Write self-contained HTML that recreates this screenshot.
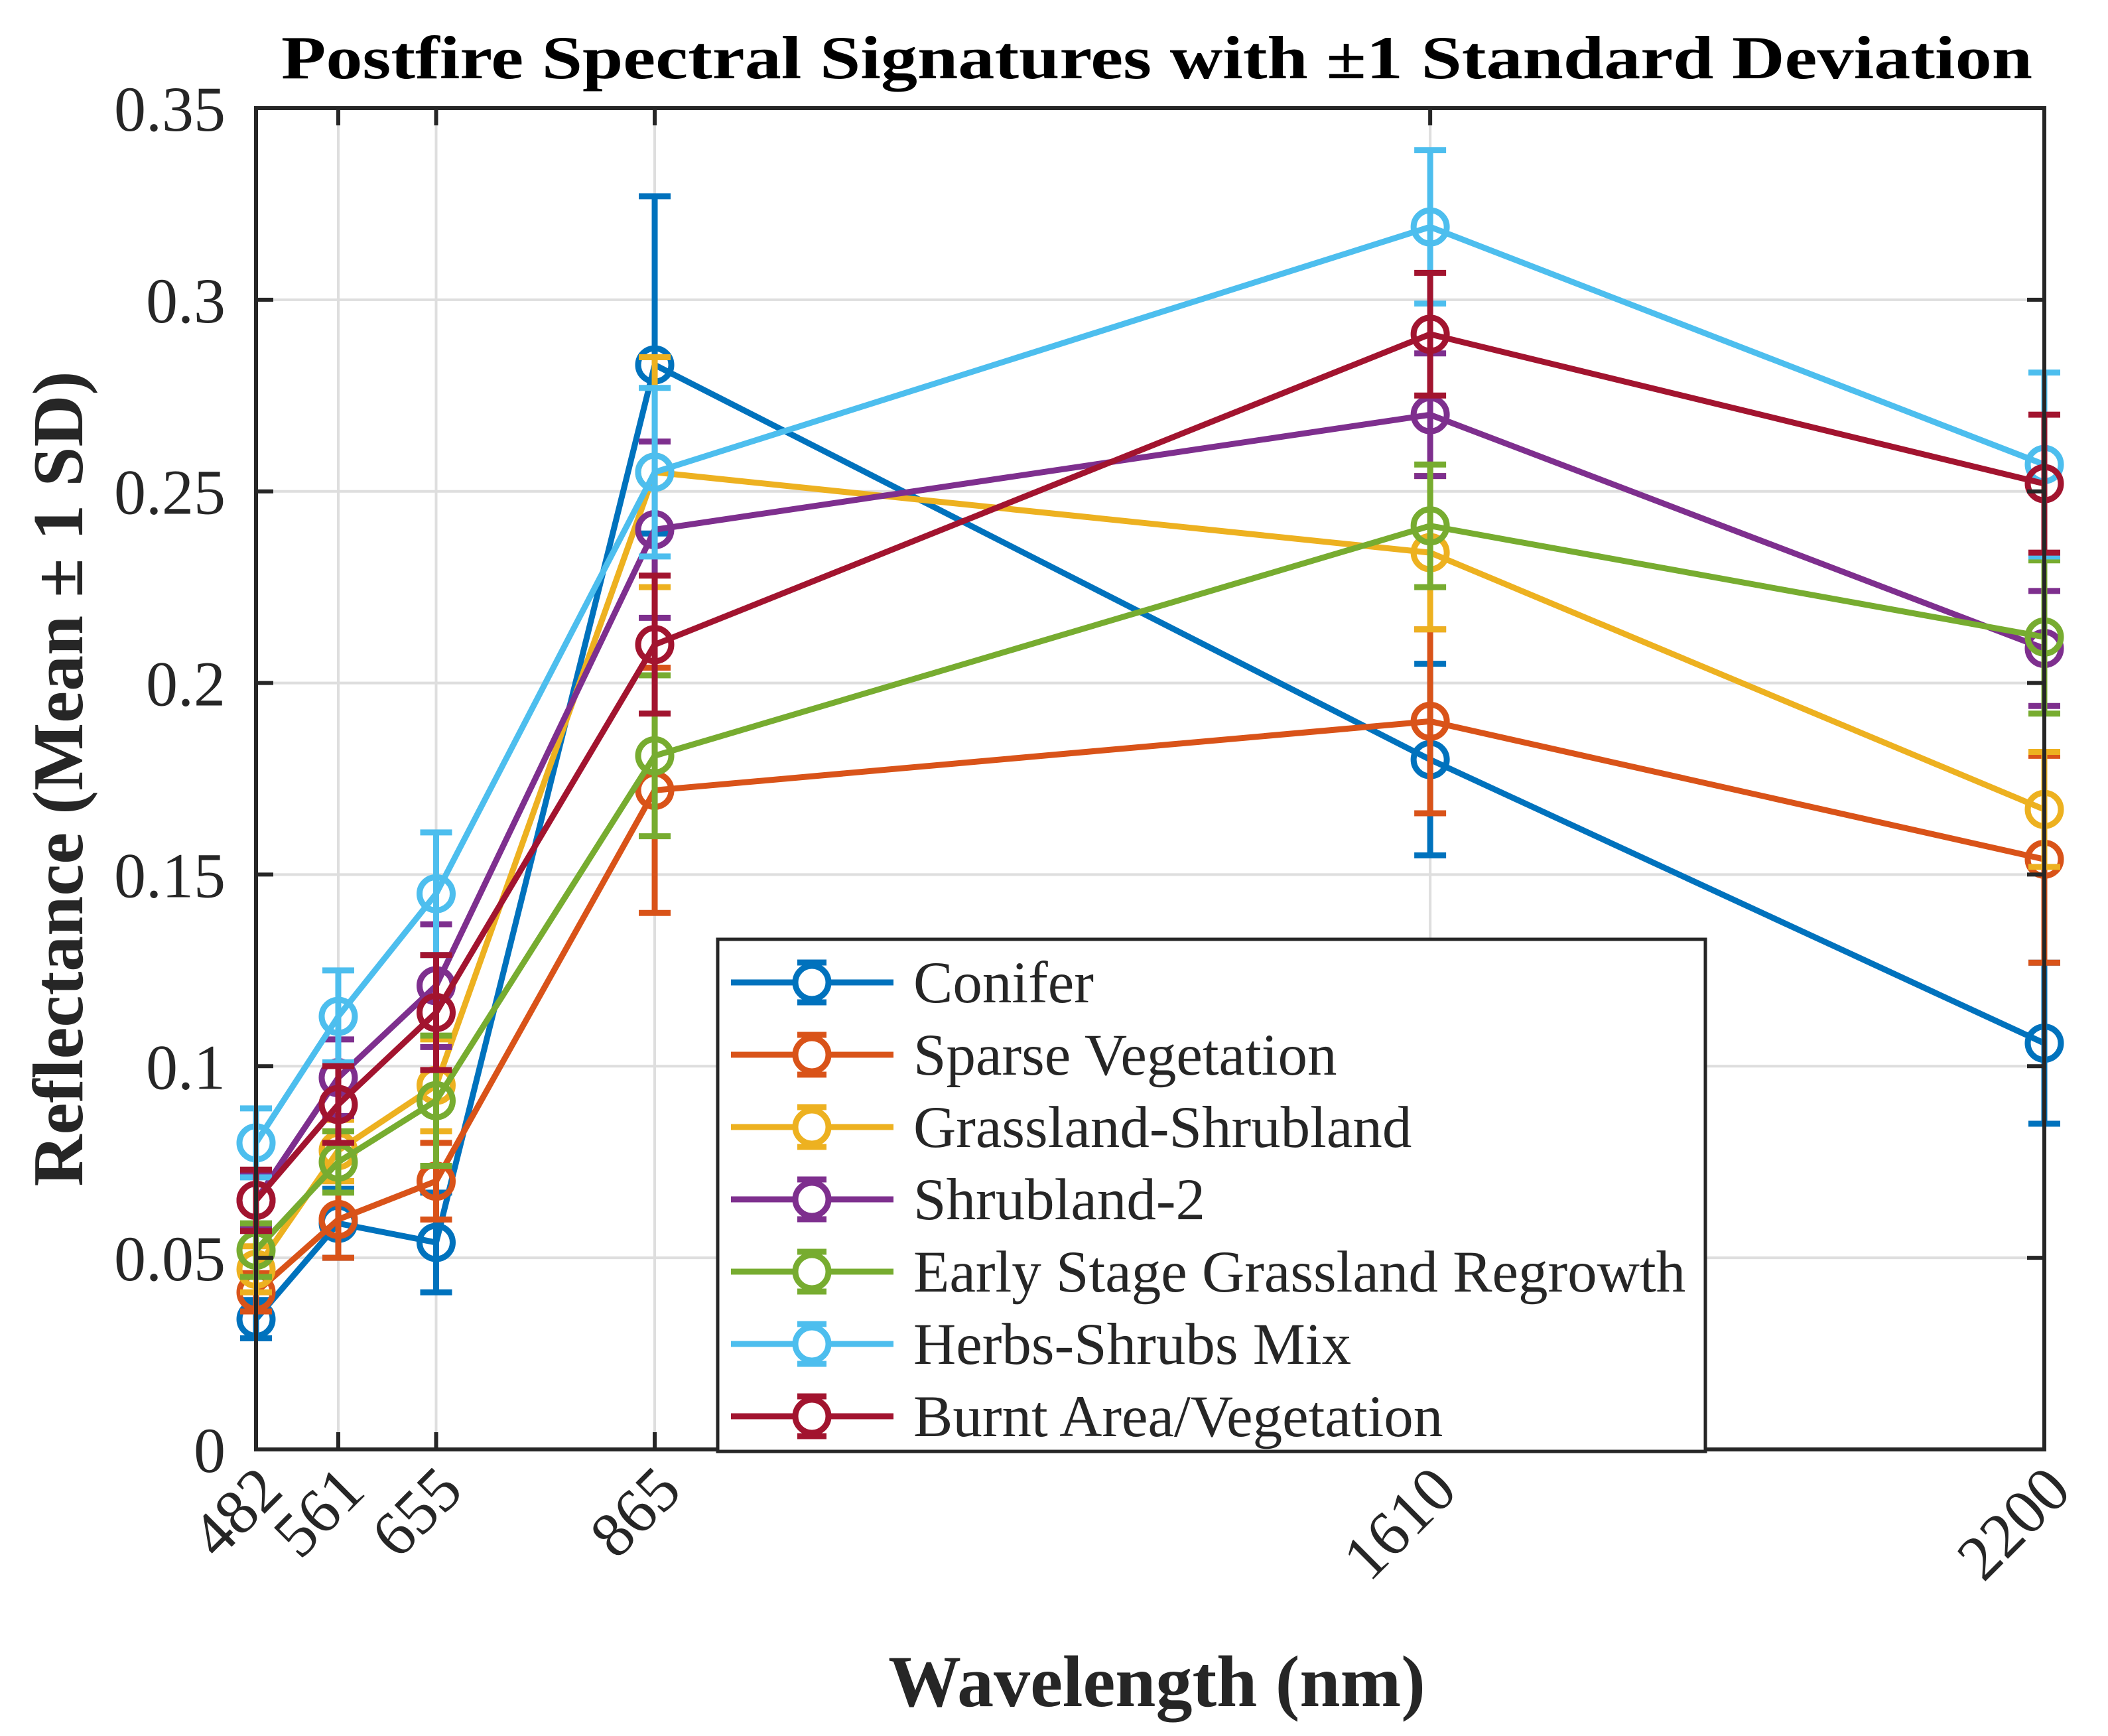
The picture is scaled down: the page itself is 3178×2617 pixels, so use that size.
<!DOCTYPE html>
<html><head><meta charset="utf-8"><style>
html,body{margin:0;padding:0;background:#fff;}
svg{display:block;}
text{font-family:"Liberation Serif",serif;fill:#262626;}
</style></head>
<body>
<svg id="chart" width="3178" height="2617" viewBox="0 0 3178 2617" xmlns="http://www.w3.org/2000/svg">
<rect x="0" y="0" width="3178" height="2617" fill="#fff"/>
<text x="1744" y="118" text-anchor="middle" font-size="92" font-weight="bold" textLength="2640" lengthAdjust="spacingAndGlyphs" style="fill:#000">Postfire Spectral Signatures with ±1 Standard Deviation</text>
<g id="grid"></g>
<g id="series"></g>
<g id="axes"></g>
<g id="legend"></g>
<text x="1744" y="2572" text-anchor="middle" font-size="110" font-weight="bold">Wavelength (nm)</text>
<text transform="translate(124,1174) rotate(-90)" text-anchor="middle" font-size="108" font-weight="bold">Reflectance (Mean ± 1 SD)</text>
</svg>
<script>
const wavelengths = [482, 561, 655, 865, 1610, 2200];
const seriesNames = ["Conifer","Sparse Vegetation","Grassland-Shrubland","Shrubland-2","Early Stage Grassland Regrowth","Herbs-Shrubs Mix","Burnt Area/Vegetation"];
const coniferMean = [0.034, 0.059, 0.054, 0.283, 0.180, 0.106];
const coniferSD   = [0.005, 0.009, 0.013, 0.044, 0.025, 0.021];
const sparseMean  = [0.041, 0.060, 0.070, 0.172, 0.190, 0.154];
const sparseSD    = [0.005, 0.010, 0.010, 0.032, 0.024, 0.027];
const grassMean   = [0.047, 0.078, 0.095, 0.255, 0.234, 0.167];
const grassSD     = [0.006, 0.008, 0.012, 0.030, 0.020, 0.015];
const shrub2Mean  = [0.065, 0.097, 0.121, 0.240, 0.270, 0.209];
const shrub2SD    = [0.007, 0.010, 0.016, 0.023, 0.016, 0.015];
const earlyMean   = [0.052, 0.075, 0.091, 0.181, 0.241, 0.212];
const earlySD     = [0.007, 0.008, 0.017, 0.021, 0.016, 0.020];
const herbsMean   = [0.080, 0.113, 0.145, 0.255, 0.319, 0.257];
const herbsSD     = [0.009, 0.012, 0.016, 0.022, 0.020, 0.024];
const burntMean   = [0.065, 0.090, 0.114, 0.210, 0.291, 0.252];
const burntSD     = [0.008, 0.010, 0.015, 0.018, 0.016, 0.018];
const yTicks = [0, 0.05, 0.1, 0.15, 0.2, 0.25, 0.3, 0.35];
const yTickLabels = ["0","0.05","0.1","0.15","0.2","0.25","0.3","0.35"];
const xTickLabels = ["482","561","655","865","1610","2200"];

const means = [coniferMean, sparseMean, grassMean, shrub2Mean, earlyMean, herbsMean, burntMean];
const sds = [coniferSD, sparseSD, grassSD, shrub2SD, earlySD, herbsSD, burntSD];
const colors = ["#0072BD","#D95319","#EDB120","#7E2F8E","#77AC30","#4DBEEE","#A2142F"];
const L=386, R=3082, T=163, B=2185;
const x = w => L + (w-482)/(2200-482)*(R-L);
const y = v => B - v/0.35*(B-T);
const NS="http://www.w3.org/2000/svg";
function mk(tag, attrs, parent){const e=document.createElementNS(NS,tag);for(const k in attrs)e.setAttribute(k,attrs[k]);parent.appendChild(e);return e;}
const grid=document.getElementById('grid'), axes=document.getElementById('axes'), ser=document.getElementById('series'), leg=document.getElementById('legend');
yTicks.forEach((t,i)=>{
  const g=mk('line',{x1:L,x2:R,y1:y(t),y2:y(t),stroke:'#dedede','stroke-width':4},grid);
  
  
  const tk=mk('line',{x1:L,x2:L+26,y1:y(t),y2:y(t),stroke:'#262626','stroke-width':6},axes);
  
  
  const tk2=mk('line',{x1:R-26,x2:R,y1:y(t),y2:y(t),stroke:'#262626','stroke-width':6},axes);
  
  
  const tx=mk('text',{x:340,y:y(t)+34,'text-anchor':'end','font-size':96},axes);
  tx.textContent=yTickLabels[i];
  
  
});
wavelengths.forEach((w,i)=>{
  const g=mk('line',{x1:x(w),x2:x(w),y1:T,y2:B,stroke:'#dedede','stroke-width':4},grid);
  
  
  const tk=mk('line',{x1:x(w),x2:x(w),y1:B-26,y2:B,stroke:'#262626','stroke-width':6},axes);
  
  
  const tk2=mk('line',{x1:x(w),x2:x(w),y1:T,y2:T+26,stroke:'#262626','stroke-width':6},axes);
  
  
  const tx=mk('text',{transform:`translate(${x(w)+44},${B+66}) rotate(-45)`,'text-anchor':'end','font-size':96},axes);
  tx.textContent=xTickLabels[i];
  
  
});
const box=mk('rect',{x:L,y:T,width:R-L,height:B-T,fill:'none',stroke:'#262626','stroke-width':6},axes);



means.forEach((m,s)=>{
  const g=mk('g',{},ser);
  
  
  const pts=m.map((v,i)=>x(wavelengths[i])+','+y(v)).join(' ');
  const pl=mk('polyline',{points:pts,fill:'none',stroke:colors[s],'stroke-width':9,'stroke-linejoin':'round'},g);
  
  
  m.forEach((v,i)=>{
    const cx=x(wavelengths[i]), sd=sds[s][i];
    const eb=mk('path',{d:`M${cx},${y(v-sd)}V${y(v+sd)}M${cx-24},${y(v-sd)}H${cx+24}M${cx-24},${y(v+sd)}H${cx+24}`,stroke:colors[s],'stroke-width':9,fill:'none'},g);
    
    
    const c=mk('circle',{cx:cx,cy:y(v),r:25,fill:'none',stroke:colors[s],'stroke-width':9},g);
    
    
  });
});

const lb=mk('rect',{x:1082,y:1416,width:1489,height:772,fill:'#fff',stroke:'#262626','stroke-width':5},leg);


seriesNames.forEach((n,s)=>{
  const cy=1481+s*109;
  const g=mk('g',{},leg);
  
  
  mk('line',{x1:1102,x2:1347,y1:cy,y2:cy,stroke:colors[s],'stroke-width':9},g);
  mk('path',{d:`M1224,${cy-30}V${cy+30}M1202,${cy-30}H1246M1202,${cy+30}H1246`,stroke:colors[s],'stroke-width':9,fill:'none'},g);
  mk('circle',{cx:1224,cy:cy,r:25,fill:'#fff',stroke:colors[s],'stroke-width':9},g);
  const t=mk('text',{x:1377,y:cy+30,'font-size':89},g);
  t.textContent=n;
  
  
});
</script>
</body></html>
